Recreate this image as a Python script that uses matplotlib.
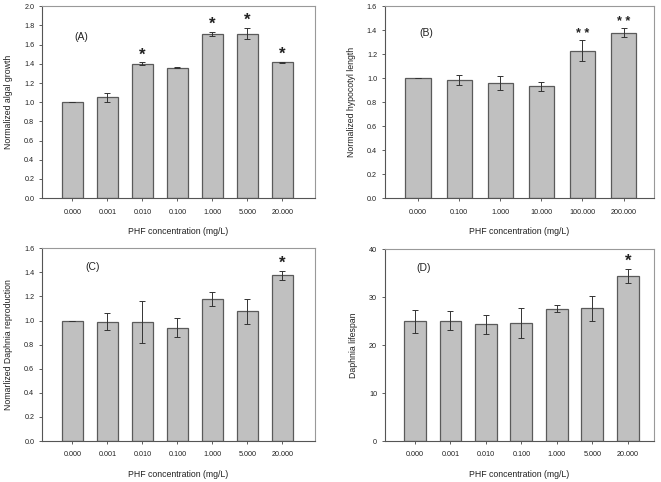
import matplotlib.pyplot as plt
import numpy as np

plt.rcParams['font.family'] = ['Liberation Sans', 'DejaVu Sans']

# data
conc_a = ['0.000', '0.001', '0.010', '0.100', '1.000', '5.000', '20.000']
algal_mean = [1.00, 1.05, 1.40, 1.36, 1.715, 1.715, 1.415]
algal_err = [0.0, 0.05, 0.015, 0.007, 0.02, 0.06, 0.006]
algal_sig = ['', '', '*', '', '*', '*', '*']

conc_b = ['0.000', '0.100', '1.000', '10.000', '100.000', '200.000']
hypo_mean = [1.00, 0.985, 0.96, 0.932, 1.23, 1.38]
hypo_err = [0.0, 0.045, 0.06, 0.04, 0.085, 0.038]
hypo_sig = ['', '', '', '', '* *', '* *']

conc_c = ['0.000', '0.001', '0.010', '0.100', '1.000', '5.000', '20.000']
repro_mean = [1.00, 0.99, 0.985, 0.94, 1.178, 1.075, 1.375]
repro_err = [0.0, 0.07, 0.175, 0.08, 0.055, 0.105, 0.04]
repro_sig = ['', '', '', '', '', '', '*']

life_mean = [25.0, 25.1, 24.3, 24.6, 27.6, 27.7, 34.4]
life_err = [2.4, 2.0, 2.0, 3.2, 0.8, 2.6, 1.5]
life_sig = ['', '', '', '', '', '', '*']

panels = [
    ([0.0635, 0.589, 0.413, 0.398], conc_a, algal_mean, algal_err, algal_sig,
     'Normalized algal growth', '(A)', (0.145, 0.84), 2.0, 0.2, (-0.87, 6.93)),
    ([0.582, 0.589, 0.408, 0.398], conc_b, hypo_mean, hypo_err, hypo_sig,
     'Normalized hypocotyl length', '(B)', (0.154, 0.863), 1.6, 0.2, (-0.81, 5.75)),
    ([0.0635, 0.085, 0.413, 0.400], conc_c, repro_mean, repro_err, repro_sig,
     'Nomarlized Daphnia reproduction', '(C)', (0.185, 0.903), 1.6, 0.2, (-0.87, 6.93)),
    ([0.582, 0.085, 0.408, 0.398], conc_c, life_mean, life_err, life_sig,
     'Daphnia lifespan', '(D)', (0.146, 0.9), 40, 10, (-0.85, 6.75)),
]

fig = plt.figure(figsize=(6.61, 4.82), dpi=100)

for rect, cats, mean, err, sig, ylab, tag, tagpos, ymax, ystep, xlim in panels:
    ax = fig.add_axes(rect)
    x = np.arange(len(cats))
    ax.bar(x, mean, width=0.61, color='#c0c0c0', edgecolor='#5a5a5a', linewidth=0.9, zorder=2)
    ax.errorbar(x, mean, yerr=err, fmt='none', ecolor='#333333', elinewidth=0.7,
                capsize=2.5, capthick=0.7, zorder=3)
    for xi, m, e, s in zip(x, mean, err, sig):
        if s:
            fs = 9 if s == '* *' else 12
            ax.annotate(s, xy=(xi, m + e), xytext=(0, 0), textcoords='offset points',
                        ha='center', va='bottom', fontsize=fs, fontweight='bold', color='#222222')
    ax.text(tagpos[0], tagpos[1], tag, transform=ax.transAxes, ha='center', va='center',
            fontsize=7.5, color='#222222')
    ax.set_xlim(*xlim)
    ax.set_ylim(0, ymax)
    yt = np.arange(0, ymax + ystep / 2, ystep)
    ax.set_yticks(yt)
    if ymax == 40:
        ax.set_yticklabels(['%d' % v for v in yt])
    else:
        ax.set_yticklabels(['%.1f' % v for v in yt])
    ax.set_xticks(x)
    ax.set_xticklabels(cats)
    ax.tick_params(axis='both', labelsize=5.2, direction='out', length=2.5, width=0.6,
                   colors='#444444', labelcolor='#222222', pad=3)
    ax.tick_params(axis='x', pad=5)
    ax.set_ylabel(ylab, fontsize=6.3, color='#222222', labelpad=8)
    ax.set_xlabel('PHF concentration (mg/L)', fontsize=6.3, color='#222222', labelpad=8)
    for side in ['left', 'bottom']:
        ax.spines[side].set_color('#555555')
        ax.spines[side].set_linewidth(0.8)
    for side in ['top', 'right']:
        ax.spines[side].set_color('#999999')
        ax.spines[side].set_linewidth(0.8)

fig.savefig('out.png', dpi=100)
